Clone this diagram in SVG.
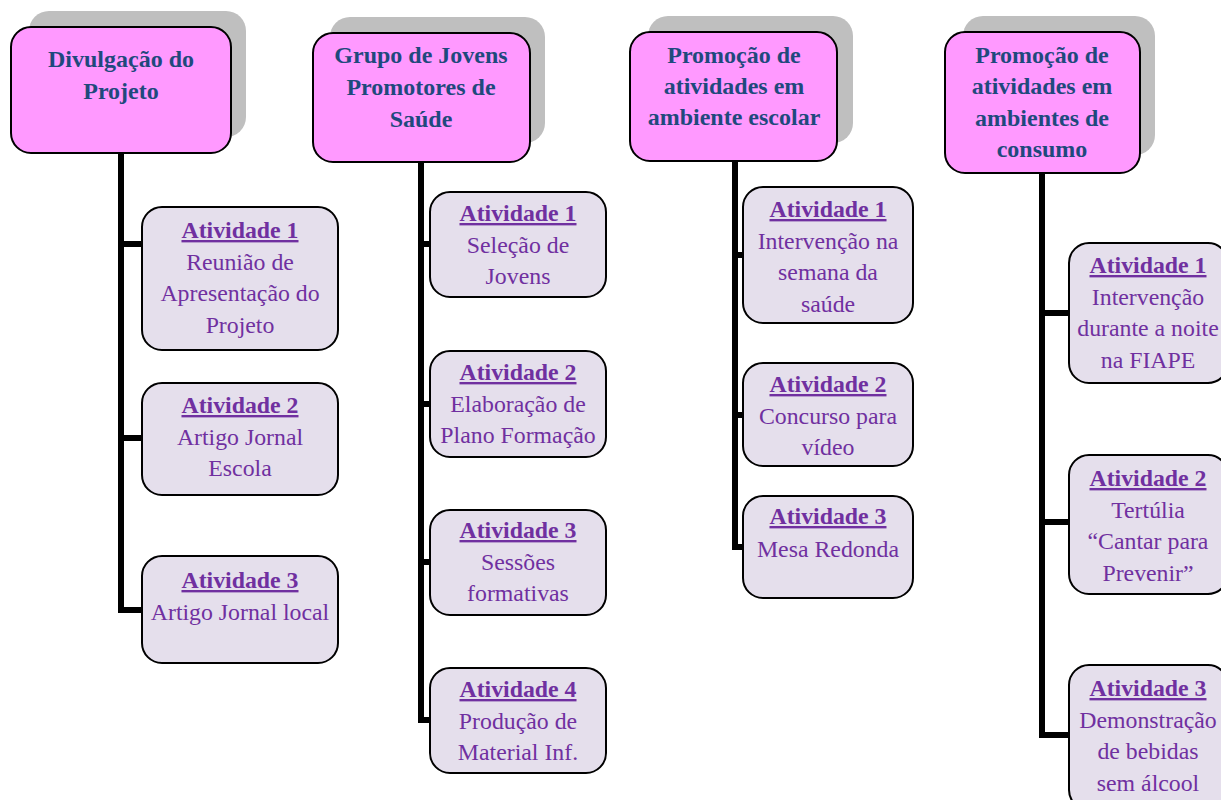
<svg xmlns="http://www.w3.org/2000/svg" width="1221" height="800" viewBox="0 0 1221 800">
<style>
.sh{fill:#BFBFBF;stroke:none}
.hd{fill:#FF99FF;stroke:#000;stroke-width:2}
.ac{fill:#E5DFEC;stroke:#000;stroke-width:2}
.ht{font-family:"Liberation Serif","Times New Roman",serif;font-size:24px;font-weight:bold;fill:#1F497D;text-anchor:middle}
.at{font-family:"Liberation Serif","Times New Roman",serif;font-size:23.8px;fill:#7030A0;text-anchor:middle}
.tt{font-weight:bold;text-decoration:underline}
.cn{fill:none;stroke:#000;stroke-width:6;stroke-linejoin:miter}
</style>
<rect width="1221" height="800" fill="#fff"/>
<g id="connectors">
<path class="cn" d="M121,153 V244 H142 M121,244 V438 H142 M121,438 V610 H142"/>
<path class="cn" d="M421,162 V244 H430 M421,244 V404 H430 M421,404 V562 H430 M421,562 V720 H430"/>
<path class="cn" d="M735,161 V255 H743 M735,255 V415 H743 M735,415 V547 H743"/>
<path class="cn" d="M1042,173 V313 H1069 M1042,313 V522 H1069 M1042,522 V735 H1069"/>
</g>
<g id="h1">
<rect class="sh" x="29" y="11" width="217" height="126" rx="20"/>
<rect class="hd" x="11" y="27" width="220" height="126" rx="20"/>
<text class="ht" x="121" y="67">Divulgação do</text>
<text class="ht" x="121" y="99">Projeto</text>
</g>
<g id="h2">
<rect class="sh" x="330" y="17" width="215" height="126" rx="20"/>
<rect class="hd" x="313" y="33" width="217" height="129" rx="20"/>
<text class="ht" x="421" y="63">Grupo de Jovens</text>
<text class="ht" x="421" y="95">Promotores de</text>
<text class="ht" x="421" y="127">Saúde</text>
</g>
<g id="h3">
<rect class="sh" x="648" y="16" width="205" height="127" rx="20"/>
<rect class="hd" x="630" y="32" width="207" height="129" rx="20"/>
<text class="ht" x="734" y="63">Promoção de</text>
<text class="ht" x="734" y="94">atividades em</text>
<text class="ht" x="734" y="125">ambiente escolar</text>
</g>
<g id="h4">
<rect class="sh" x="963" y="16" width="192" height="139" rx="20"/>
<rect class="hd" x="945" y="32" width="195" height="141" rx="20"/>
<text class="ht" x="1042" y="63">Promoção de</text>
<text class="ht" x="1042" y="94">atividades em</text>
<text class="ht" x="1042" y="126">ambientes de</text>
<text class="ht" x="1042" y="157">consumo</text>
</g>
<g id="c1a1">
<rect class="ac" x="142" y="207" width="196" height="143" rx="20"/>
<text class="at" x="240" y="238"><tspan class="tt">Atividade 1</tspan><tspan x="240" dy="31.5">Reunião de</tspan><tspan x="240" dy="31.5">Apresentação do</tspan><tspan x="240" dy="31.5">Projeto</tspan></text>
</g>
<g id="c1a2">
<rect class="ac" x="142" y="383" width="196" height="112" rx="20"/>
<text class="at" x="240" y="413"><tspan class="tt">Atividade 2</tspan><tspan x="240" dy="31.5">Artigo Jornal</tspan><tspan x="240" dy="31.5">Escola</tspan></text>
</g>
<g id="c1a3">
<rect class="ac" x="142" y="556" width="196" height="107" rx="20"/>
<text class="at" x="240" y="588"><tspan class="tt">Atividade 3</tspan><tspan x="240" dy="31.5">Artigo Jornal local</tspan></text>
</g>
<g id="c2a1">
<rect class="ac" x="430" y="192" width="176" height="105" rx="20"/>
<text class="at" x="518" y="221"><tspan class="tt">Atividade 1</tspan><tspan x="518" dy="31.5">Seleção de</tspan><tspan x="518" dy="31.5">Jovens</tspan></text>
</g>
<g id="c2a2">
<rect class="ac" x="430" y="351" width="176" height="106" rx="20"/>
<text class="at" x="518" y="380"><tspan class="tt">Atividade 2</tspan><tspan x="518" dy="31.5">Elaboração de</tspan><tspan x="518" dy="31.5">Plano Formação</tspan></text>
</g>
<g id="c2a3">
<rect class="ac" x="430" y="510" width="176" height="105" rx="20"/>
<text class="at" x="518" y="538"><tspan class="tt">Atividade 3</tspan><tspan x="518" dy="31.5">Sessões</tspan><tspan x="518" dy="31.5">formativas</tspan></text>
</g>
<g id="c2a4">
<rect class="ac" x="430" y="668" width="176" height="105" rx="20"/>
<text class="at" x="518" y="697"><tspan class="tt">Atividade 4</tspan><tspan x="518" dy="31.5">Produção de</tspan><tspan x="518" dy="31.5">Material Inf.</tspan></text>
</g>
<g id="c3a1">
<rect class="ac" x="743" y="187" width="170" height="136" rx="20"/>
<text class="at" x="828" y="217"><tspan class="tt">Atividade 1</tspan><tspan x="828" dy="31.5">Intervenção na</tspan><tspan x="828" dy="31.5">semana da</tspan><tspan x="828" dy="31.5">saúde</tspan></text>
</g>
<g id="c3a2">
<rect class="ac" x="743" y="363" width="170" height="103" rx="20"/>
<text class="at" x="828" y="392"><tspan class="tt">Atividade 2</tspan><tspan x="828" dy="31.5">Concurso para</tspan><tspan x="828" dy="31.5">vídeo</tspan></text>
</g>
<g id="c3a3">
<rect class="ac" x="743" y="496" width="170" height="102" rx="20"/>
<text class="at" x="828" y="524"><tspan class="tt">Atividade 3</tspan><tspan x="828" dy="32.5">Mesa Redonda</tspan></text>
</g>
<g id="c4a1">
<rect class="ac" x="1069" y="243" width="159" height="140" rx="20"/>
<text class="at" x="1148" y="273"><tspan class="tt">Atividade 1</tspan><tspan x="1148" dy="31.5">Intervenção</tspan><tspan x="1148" dy="31.5">durante a noite</tspan><tspan x="1148" dy="31.5">na FIAPE</tspan></text>
</g>
<g id="c4a2">
<rect class="ac" x="1069" y="455" width="159" height="139" rx="20"/>
<text class="at" x="1148" y="486"><tspan class="tt">Atividade 2</tspan><tspan x="1148" dy="31.5">Tertúlia</tspan><tspan x="1148" dy="31.5">“Cantar para</tspan><tspan x="1148" dy="31.5">Prevenir”</tspan></text>
</g>
<g id="c4a3">
<rect class="ac" x="1069" y="665" width="159" height="145" rx="20"/>
<text class="at" x="1148" y="696"><tspan class="tt">Atividade 3</tspan><tspan x="1148" dy="31.5">Demonstração</tspan><tspan x="1148" dy="31.5">de bebidas</tspan><tspan x="1148" dy="31.5">sem álcool</tspan></text>
</g>
</svg>
